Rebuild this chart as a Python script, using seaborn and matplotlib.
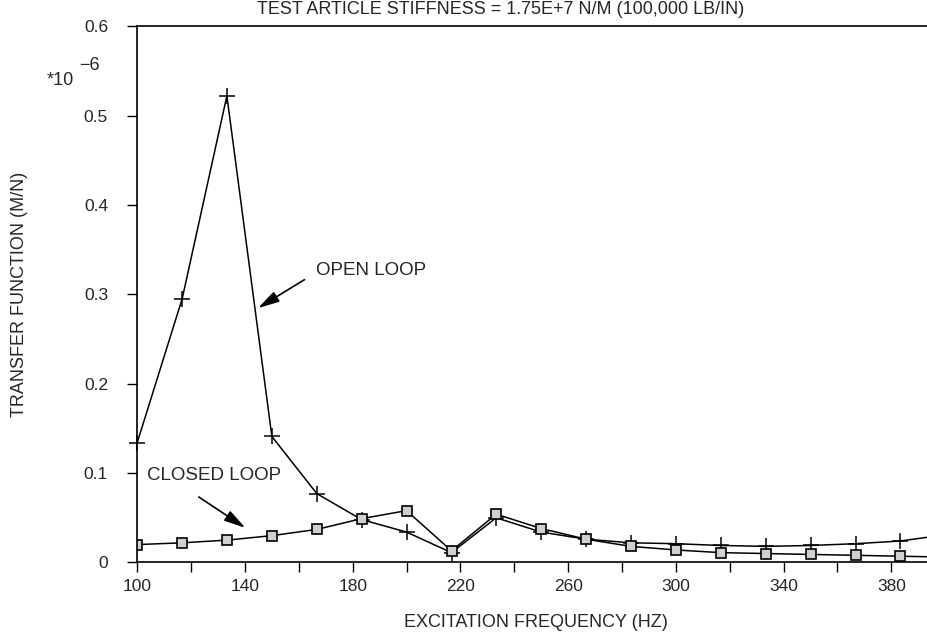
import numpy as np
import pandas as pd
import seaborn as sns
import matplotlib.pyplot as plt
from matplotlib.ticker import MultipleLocator

# excitation frequencies (Hz), one point every 16.7 Hz
freq = [100, 116.7, 133.3, 150, 166.7, 183.3, 200, 216.7, 233.3, 250,
        266.7, 283.3, 300, 316.7, 333.3, 350, 366.7, 383.3, 400]

# transfer function (x 1e-6 M/N)
open_loop = [0.134, 0.295, 0.522, 0.141, 0.077, 0.048, 0.034, 0.011, 0.050, 0.034,
             0.026, 0.022, 0.021, 0.019, 0.018, 0.019, 0.021, 0.024, 0.031]
closed_loop = [0.020, 0.022, 0.025, 0.030, 0.037, 0.049, 0.058, 0.013, 0.054, 0.038,
               0.026, 0.018, 0.014, 0.011, 0.010, 0.009, 0.008, 0.007, 0.006]

x_ticks = [100, 140, 180, 220, 260, 300, 340, 380]
y_ticks = [0, 0.1, 0.2, 0.3, 0.4, 0.5, 0.6]
y_ticklabels = ['0', '0.1', '0.2', '0.3', '0.4', '0.5', '0.6']

sns.set_style('ticks')
plt.rcParams['font.family'] = ['Liberation Sans', 'DejaVu Sans']

df = pd.DataFrame({'freq': freq, 'open': open_loop, 'closed': closed_loop})

fig = plt.figure(figsize=(9.27, 6.37), dpi=100)
ax = fig.add_axes([0.148, 0.117, 0.86, 0.842])

sns.lineplot(data=df, x='freq', y='open', ax=ax, color='black', lw=1.1,
             marker='+', markersize=11, markeredgecolor='black',
             markeredgewidth=1.1, clip_on=False)
sns.lineplot(data=df, x='freq', y='closed', ax=ax, color='black', lw=1.1,
             marker='s', markersize=6.5, markerfacecolor='#d0d0d0',
             markeredgecolor='black', markeredgewidth=1.2)

ax.set_xlim(100, 396)
ax.set_ylim(0, 0.6)
ax.set_xticks(x_ticks)
ax.xaxis.set_minor_locator(MultipleLocator(20))
ax.set_yticks(y_ticks)
ax.set_yticklabels(y_ticklabels)
ax.tick_params(axis='both', which='both', direction='out', length=7, width=1,
               labelsize=12.5, color='black')
ax.tick_params(axis='x', pad=5)
ax.tick_params(axis='y', pad=14)

for side in ['left', 'bottom', 'top']:
    ax.spines[side].set_visible(True)
    ax.spines[side].set_linewidth(1.2)
    ax.spines[side].set_color('black')
ax.spines['right'].set_visible(False)

ax.set_xlabel('EXCITATION FREQUENCY (HZ)', fontsize=13, labelpad=14)
ax.set_ylabel('TRANSFER FUNCTION (M/N)', fontsize=13, labelpad=40)

# scale factor
fig.text(0.050, 0.874, '*10', fontsize=13, va='center')
fig.text(0.085, 0.897, '\u22126', fontsize=13, va='center')

fig.text(0.54, 0.998, 'TEST ARTICLE STIFFNESS = 1.75E+7 N/M (100,000 LB/IN)',
         fontsize=13, ha='center', va='top')

arrow = dict(arrowstyle='-|>,head_length=1.3,head_width=0.35', color='black', lw=1.2)
ax.text(166.5, 0.327, 'OPEN LOOP', fontsize=13.5, va='center')
ax.annotate('', xy=(144, 0.283), xytext=(163, 0.318), arrowprops=arrow)
ax.text(103.5, 0.097, 'CLOSED LOOP', fontsize=13.5, va='center')
ax.annotate('', xy=(141, 0.037), xytext=(122, 0.075), arrowprops=arrow)

fig.savefig('out.png', dpi=100)
